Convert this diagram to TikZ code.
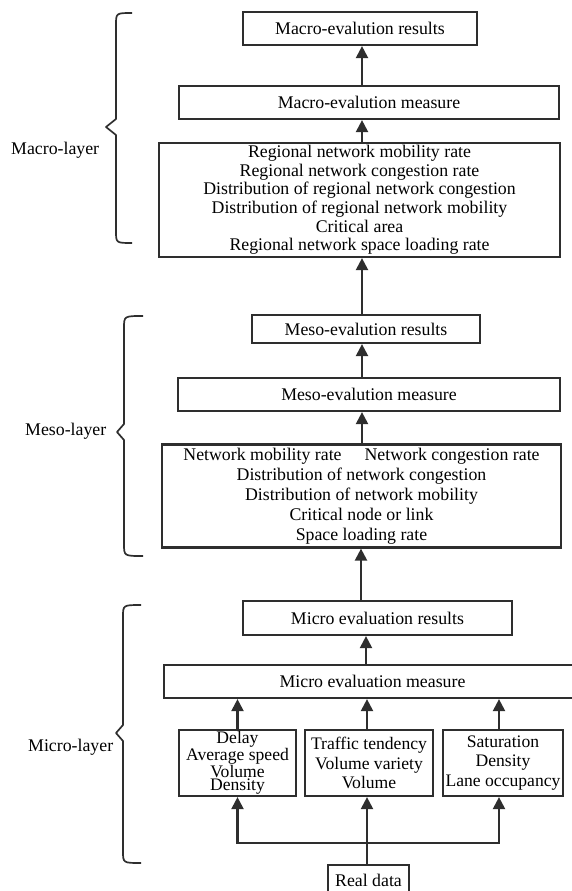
\documentclass[tikz,border=0pt]{standalone}
\usepackage{fontspec}
\setmainfont{Liberation Serif}
\usetikzlibrary{arrows.meta}
\definecolor{bc}{HTML}{2E2E2E}
\begin{document}
\begin{tikzpicture}[x=1pt,y=-1pt,
  box/.style={draw=bc, line width=2.2pt, inner sep=0pt, align=center, text=black,
              font={\fontsize{17.8}{18.6}\selectfont}},
  arr/.style={draw=bc, line width=2.2pt, -{Triangle[width=12pt,length=12pt]}},
  brc/.style={draw=bc, line width=1.7pt, line join=round},
  lbl/.style={inner sep=0pt, font={\fontsize{17.8}{18.6}\selectfont}}]
\useasboundingbox (0,0) rectangle (571,891);
\coordinate (sp) at (362,0);
% Macro layer
\node[box, minimum width=234pt, minimum height=33pt] (mres) at (360,28.5) {Macro-evalution results};
\node[box, minimum width=380pt, minimum height=33pt] (mmeas) at (369,102.5) {Macro-evalution measure};
\node[box, minimum width=401pt, minimum height=114pt] (mlist) at (359.5,200)
  {Regional network mobility rate\\Regional network congestion rate\\Distribution of regional network congestion\\Distribution of regional network mobility\\Critical area\\Regional network space loading rate};
% Meso layer
\node[box, minimum width=228pt, minimum height=28pt] (sres) at (366,329) {Meso-evalution results};
\node[box, minimum width=382pt, minimum height=33pt] (smeas) at (369,394.5) {Meso-evalution measure};
\node[box, minimum width=399pt, minimum height=103pt, font={\fontsize{17.8}{20}\selectfont}] (slist) at (361.5,496)
  {Network mobility rate\hspace{23pt}Network congestion rate\\Distribution of network congestion\\Distribution of network mobility\\Critical node or link\\Space loading rate};
% Micro layer
\node[box, minimum width=269pt, minimum height=34pt] (ires) at (377.5,618) {Micro evaluation results};
\node[box, minimum width=417pt, minimum height=33pt] (imeas) at (372.5,681.5) {Micro evaluation measure};
\node[box, minimum width=117pt, minimum height=66pt, font={\fontsize{17.6}{13}\selectfont}] (b1) at (237.5,763)
  {Delay\\Average speed\\Volume\\Density};
\node[box, minimum width=128pt, minimum height=66pt, font={\fontsize{17.6}{19.5}\selectfont}] (b2) at (369,763)
  {Traffic tendency\\Volume variety\\Volume};
\node[box, minimum width=120pt, minimum height=66pt, font={\fontsize{17.6}{19.5}\selectfont}] (b3) at (503,763)
  {Saturation\\Density\\Lane occupancy};
\node[box, minimum width=81pt, minimum height=32pt, anchor=north] (rd) at (368.5,864) {};
\node[lbl] (rdt) at (368.5,880) {Real data};
% spine arrows
\draw[arr] (mmeas.north -| sp) -- (mres.south -| sp);
\draw[arr] (mlist.north -| sp) -- (mmeas.south -| sp);
\draw[arr] (sres.north -| sp) -- (mlist.south -| sp);
\draw[arr] (smeas.north -| sp) -- (sres.south -| sp);
\draw[arr] (slist.north -| sp) -- (smeas.south -| sp);
\draw[arr] (ires.north -| 361,0) -- (slist.south -| 361,0);
\draw[arr] (imeas.north -| 366,0) -- (ires.south -| 366,0);
% micro arrows
\draw[arr] (b1.north) -- (imeas.south -| b1.north);
\draw[arr] (b2.north -| 367,0) -- (imeas.south -| 367,0);
\draw[arr] (b3.north -| 499,0) -- (imeas.south -| 499,0);
\coordinate (br) at (367,843);
\draw[draw=bc, line width=2.2pt] (rd.north -| br) -- (br);
\draw[arr] (br) -- (b2.south -| br);
\draw[arr] (br) -- (br -| b1.south) -- (b1.south);
\draw[arr] (br) -- (br -| 499,0) -- (b3.south -| 499,0);
% braces
\draw[brc] (132,13) .. controls (116,13) .. (116,25) -- (116,119) -- (106,127) -- (116,135) -- (116,231) .. controls (116,243) .. (132,243);
\draw[brc] (143,316) .. controls (124,316) .. (124,328) -- (124,424) -- (117,432) -- (124,440) -- (124,544) .. controls (124,556) .. (143,556);
\draw[brc] (141,605) .. controls (123,605) .. (123,617) -- (123,725) -- (116,733) -- (123,741) -- (123,851) .. controls (123,863) .. (141,863);
% labels
\node[lbl, anchor=west] (lmac) at (11,150) {Macro-layer};
\node[lbl, anchor=west] (lmes) at (25,431) {Meso-layer};
\node[lbl, anchor=west] (lmic) at (28,747) {Micro-layer};
\end{tikzpicture}
\end{document}
